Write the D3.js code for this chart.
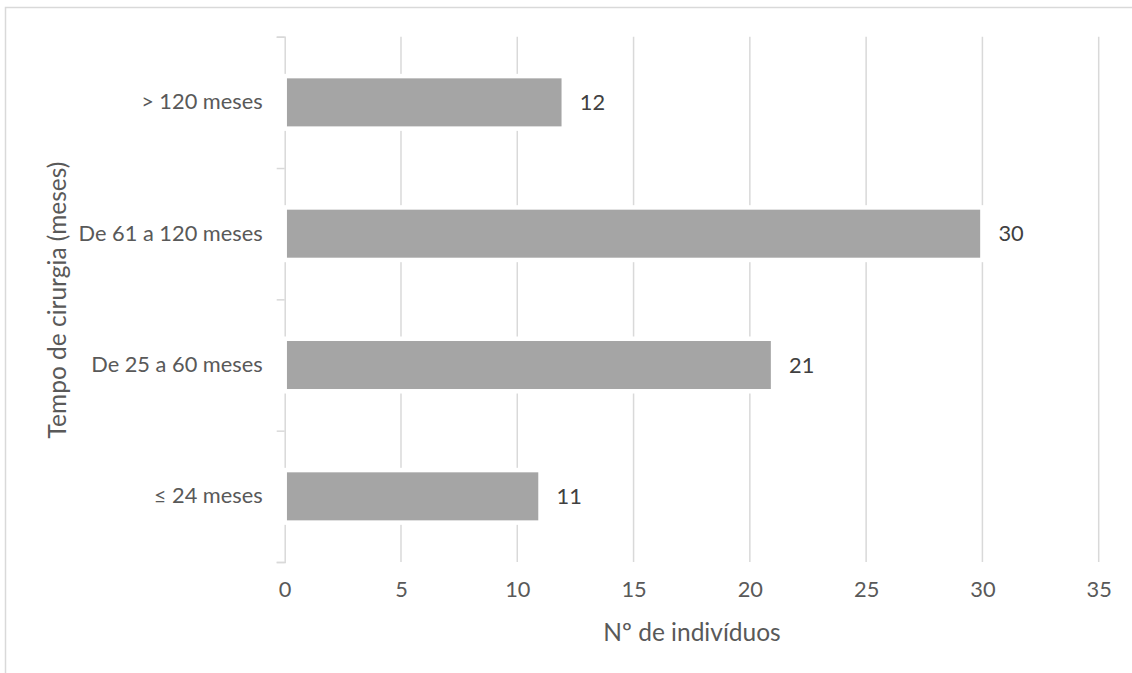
<!DOCTYPE html>
<html>
<head>
<meta charset="utf-8">
<script src="https://cdn.jsdelivr.net/npm/d3@7"></script>
<style>
  html, body { margin: 0; padding: 0; background: #fff; }
  svg { display: block; font-family: Lato, "Open Sans", sans-serif; }
</style>
</head>
<body>
<svg id="chart" width="1132" height="673"></svg>
<script>
// Categories listed top to bottom
const categories = ["> 120 meses", "De 61 a 120 meses", "De 25 a 60 meses", "≤ 24 meses"];
const counts = [12, 30, 21, 11];
const xTicks = [0, 5, 10, 15, 20, 25, 30, 35];
const xTitle = "Nº de indivíduos";
const yTitle = "Tempo de cirurgia (meses)";

const svg = d3.select("#chart");
const plot = { left: 284.7, right: 1098.7, top: 36.7, bottom: 562 };
const gridColor = "#D9D9D9";
const textColor = "#595959";
const fontSize = 21.8;
const titleSize = 24.5;

// Chart area frame
svg.append("rect")
  .attr("x", 5.5).attr("y", 7.5)
  .attr("width", 1140).attr("height", 700)
  .attr("fill", "#fff").attr("stroke", gridColor).attr("stroke-width", 1.5);

const x = d3.scaleLinear().domain([0, 35]).range([plot.left, plot.right]);
const y = d3.scaleBand().domain(categories).range([plot.top, plot.bottom]).paddingInner(0.6).paddingOuter(0.3);
const yEdges = d3.scaleLinear().domain([0, categories.length]).range([plot.top, plot.bottom]);

// Vertical gridlines
svg.append("g")
  .selectAll("line")
  .data(xTicks.filter(d => d > 0))
  .join("line")
  .attr("x1", d => x(d)).attr("x2", d => x(d))
  .attr("y1", plot.top).attr("y2", plot.bottom)
  .attr("stroke", gridColor).attr("stroke-width", 1.5);

// Category axis: line with ticks at band edges
const yAxis = svg.append("g")
  .attr("transform", `translate(${plot.left},0)`)
  .call(d3.axisLeft(yEdges).ticks(categories.length).tickSize(8).tickFormat(""));
yAxis.select(".domain").attr("stroke", gridColor).attr("stroke-width", 1.5);
yAxis.selectAll(".tick line").attr("stroke", gridColor).attr("stroke-width", 1.5);

// Category labels
const yLabels = svg.append("g")
  .attr("transform", `translate(${plot.left},0)`)
  .call(d3.axisLeft(y).tickSize(0).tickPadding(22));
yLabels.select(".domain").remove();
yLabels.selectAll("text")
  .attr("fill", textColor).style("font-size", fontSize + "px").style("font-family", "Lato, sans-serif");

// Value axis labels
const xAxis = svg.append("g")
  .attr("transform", `translate(0,${plot.bottom})`)
  .call(d3.axisBottom(x).tickValues(xTicks).tickSize(0).tickPadding(20));
xAxis.select(".domain").remove();
xAxis.selectAll("text")
  .attr("fill", textColor).style("font-size", fontSize + "px").style("font-family", "Lato, sans-serif");

// Bars
svg.append("g")
  .selectAll("rect")
  .data(categories)
  .join("rect")
  .attr("x", x(0))
  .attr("y", d => y(d))
  .attr("width", (d, i) => x(counts[i]) - x(0))
  .attr("height", y.bandwidth())
  .attr("fill", "#A5A5A5")
  .attr("stroke", "#fff").attr("stroke-width", 4.5);

// Value labels
svg.append("g")
  .selectAll("text")
  .data(categories)
  .join("text")
  .attr("x", (d, i) => x(counts[i]) + 16)
  .attr("y", d => y(d) + y.bandwidth() / 2)
  .attr("dy", "0.35em")
  .attr("fill", "#404040")
  .style("font-size", fontSize + "px")
  .text((d, i) => counts[i]);

// Axis titles
svg.append("text")
  .attr("x", 692).attr("y", 632).attr("dy", "0.35em")
  .attr("text-anchor", "middle")
  .attr("fill", textColor).style("font-size", titleSize + "px")
  .text(xTitle);

svg.append("text")
  .attr("transform", "translate(57,300) rotate(-90)")
  .attr("dy", "0.35em")
  .attr("text-anchor", "middle")
  .attr("fill", textColor).style("font-size", titleSize + "px")
  .text(yTitle);
</script>
</body>
</html>
